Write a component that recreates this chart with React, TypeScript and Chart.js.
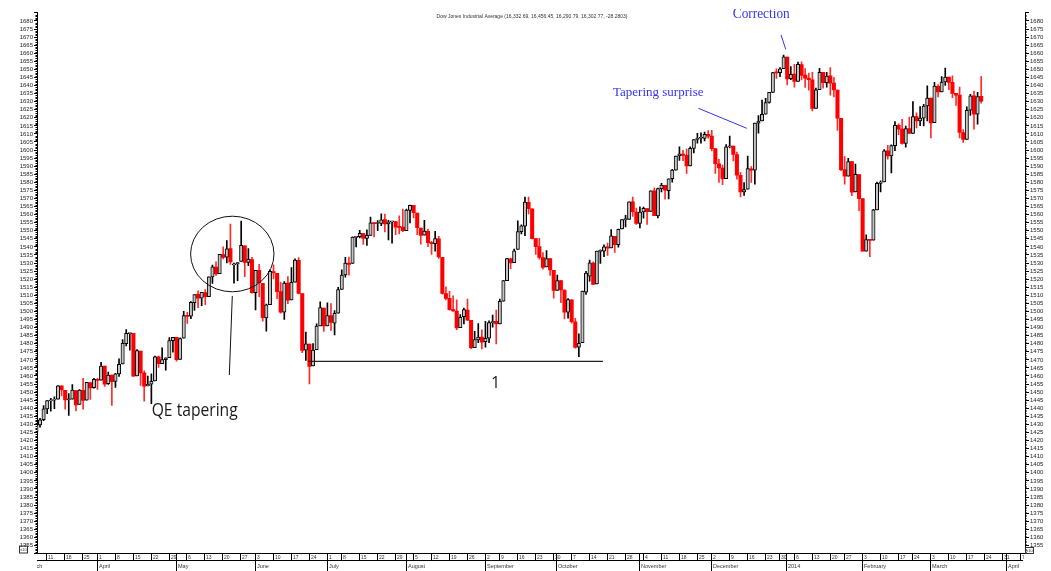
import React, { useEffect, useRef } from 'react';
import { Chart, registerables } from 'chart.js';

Chart.register(...registerables);

// ---------- calendar (trading days) ----------
const HOLIDAYS = [
  '2013-03-29', '2013-05-27', '2013-07-04', '2013-09-02', '2013-11-28',
  '2013-12-25', '2014-01-01', '2014-01-20', '2014-02-17',
];
const CAL_FIRST = '2013-03-01';
const CAL_LAST = '2014-04-11';
const DATA_START = '2013-03-06';

const MONTH_NAMES = ['January', 'February', 'March', 'April', 'May', 'June', 'July',
  'August', 'September', 'October', 'November', 'December'];

const TITLE = 'Dow Jones Industrial Average (16,332.69, 16,456.45, 16,290.79, 16,302.77, -28.2803)';

// ---------- OHLC (index points, Dow / 10), 2013-03-06 .. 2014-03-21 ----------
const opens = [
  // Mar 2013
  1425.5, 1429.7, 1433.0, 1439.6, 1444.6, 1445.0, 1445.6, 1453.9, 1451.1, 1445.3, 1445.7, 1451.0, 1442.4, 1451.1, 1445.0, 1455.9, 1452.7,
  // Apr
  1457.8, 1457.4, 1466.1, 1455.2, 1460.5, 1456.6, 1461.3, 1467.5, 1480.1, 1486.3, 1486.4, 1460.1, 1475.5, 1462.0, 1453.8, 1455.0, 1457.0, 1471.9, 1467.6, 1470.1, 1471.3, 1481.9,
  // May
  1483.9, 1470.3, 1483.4, 1497.1, 1497.0, 1505.4, 1510.6, 1508.3, 1511.7, 1509.1, 1521.4, 1527.5, 1523.4, 1535.3, 1533.7, 1538.9, 1528.8, 1529.4, 1531.0, 1540.7, 1530.4, 1532.2,
  // Jun
  1511.6, 1525.5, 1517.4, 1496.0, 1504.2, 1524.7, 1523.6, 1512.3, 1499.5, 1517.5, 1507.1, 1518.1, 1531.6, 1511.0, 1476.0, 1479.7, 1466.2, 1476.3, 1491.1, 1502.1,
  // Jul
  1491.1, 1497.4, 1492.8, 1499.0, 1513.7, 1522.6, 1530.0, 1529.7, 1545.9, 1546.4, 1548.3, 1545.2, 1547.1, 1554.8, 1554.5, 1554.6, 1556.9, 1554.3, 1555.5, 1555.7, 1552.3, 1552.2,
  // Aug
  1550.0, 1562.6, 1565.7, 1561.0, 1551.7, 1547.3, 1549.7, 1542.4, 1542.0, 1545.0, 1533.5, 1511.1, 1508.2, 1501.1, 1500.2, 1489.9, 1496.7, 1500.9, 1494.5, 1477.6, 1482.4, 1484.1,
  // Sep
  1481.3, 1483.4, 1493.1, 1493.9, 1492.3, 1506.4, 1519.0, 1532.6, 1530.2, 1538.5, 1549.5, 1552.9, 1567.6, 1563.6, 1545.1, 1540.2, 1533.4, 1527.6, 1532.7, 1525.4,
  // Oct
  1513.0, 1519.1, 1513.2, 1499.6, 1507.2, 1493.5, 1477.8, 1480.6, 1512.0, 1521.8, 1530.0, 1517.0, 1537.2, 1537.3, 1540.0, 1539.4, 1546.5, 1541.3, 1551.1, 1556.9, 1557.0, 1568.0, 1561.6,
  // Nov
  1554.6, 1561.6, 1563.8, 1562.0, 1574.8, 1559.2, 1576.1, 1578.2, 1574.9, 1582.3, 1587.6, 1596.3, 1597.5, 1596.8, 1590.2, 1601.0, 1606.6, 1607.3, 1607.2, 1609.7,
  // Dec
  1608.7, 1600.9, 1591.4, 1588.9, 1582.3, 1602.0, 1602.5, 1597.2, 1584.3, 1574.1, 1575.7, 1588.4, 1587.6, 1616.7, 1618.0, 1622.2, 1629.5, 1635.8, 1648.1, 1647.9, 1650.4,
  // Jan 2014
  1657.6, 1644.3, 1647.1, 1642.6, 1653.0, 1646.4, 1644.6, 1643.6, 1625.8, 1637.5, 1648.1, 1641.7, 1646.0, 1641.5, 1637.2, 1619.6, 1587.9, 1583.9, 1592.9, 1574.0, 1584.8,
  // Feb
  1569.9, 1537.3, 1544.3, 1544.1, 1562.9, 1579.4, 1580.2, 1599.5, 1596.3, 1602.7, 1615.4, 1613.0, 1604.1, 1613.3, 1610.3, 1620.7, 1618.0, 1619.8, 1627.3,
  // Mar
  1632.2, 1617.0, 1639.5, 1636.1, 1642.3, 1645.2, 1641.9, 1635.1, 1634.0, 1610.9, 1606.6, 1624.7, 1633.6, 1622.3, 1633.3,
];

const highs = [
  1431.6, 1433.8, 1441.7, 1444.8, 1446.1, 1447.1, 1454.0, 1453.9, 1451.1, 1449.1, 1454.6, 1451.0, 1451.6, 1458.6, 1456.0, 1455.9, 1458.5,
  1458.5, 1468.4, 1466.1, 1462.5, 1460.5, 1461.7, 1470.7, 1482.6, 1488.7, 1486.5, 1486.4, 1476.3, 1475.5, 1463.2, 1460.0, 1461.3, 1472.3, 1472.3, 1477.4, 1471.3, 1483.8, 1484.0,
  1483.9, 1483.7, 1500.1, 1499.4, 1506.1, 1510.5, 1512.7, 1511.8, 1513.5, 1521.5, 1528.7, 1530.8, 1535.4, 1540.1, 1543.9, 1554.2, 1530.0, 1530.3, 1556.0, 1540.7, 1538.9, 1533.6,
  1525.4, 1529.2, 1517.4, 1504.5, 1525.8, 1528.9, 1523.6, 1518.1, 1518.5, 1521.6, 1527.2, 1532.6, 1533.4, 1511.0, 1487.2, 1479.7, 1480.1, 1492.3, 1506.0, 1502.1,
  1505.4, 1504.9, 1500.6, 1515.0, 1525.8, 1533.5, 1533.7, 1546.3, 1546.5, 1550.3, 1548.4, 1550.5, 1558.5, 1554.8, 1556.3, 1560.5, 1560.4, 1556.4, 1555.9, 1555.9, 1559.2, 1563.4,
  1563.4, 1565.9, 1565.7, 1561.0, 1551.7, 1556.4, 1551.1, 1543.5, 1549.7, 1546.5, 1533.5, 1515.2, 1512.4, 1509.6, 1507.2, 1498.1, 1502.1, 1507.7, 1494.5, 1487.7, 1492.4, 1488.6,
  1493.8, 1494.2, 1497.7, 1500.9, 1507.6, 1519.1, 1532.9, 1533.1, 1538.6, 1556.2, 1553.7, 1570.9, 1570.9, 1563.6, 1545.1, 1545.3, 1536.4, 1537.7, 1532.7, 1525.4,
  1522.5, 1519.1, 1513.4, 1508.0, 1507.2, 1495.8, 1486.1, 1512.6, 1524.8, 1531.9, 1530.7, 1537.4, 1538.2, 1541.2, 1542.4, 1550.8, 1546.5, 1551.0, 1557.0, 1559.6, 1568.0, 1570.9, 1564.0,
  1564.9, 1564.7, 1563.8, 1574.7, 1576.6, 1576.4, 1579.4, 1578.2, 1582.2, 1588.1, 1596.2, 1602.0, 1599.8, 1600.6, 1602.0, 1606.5, 1610.3, 1610.7, 1611.1, 1612.0,
  1612.2, 1600.9, 1594.3, 1590.7, 1603.4, 1608.7, 1602.5, 1598.8, 1586.2, 1579.8, 1596.3, 1589.8, 1616.8, 1621.4, 1631.0, 1632.0, 1635.8, 1648.2, 1650.4, 1651.1, 1658.8,
  1657.6, 1651.8, 1653.2, 1654.5, 1654.7, 1650.5, 1647.7, 1648.1, 1638.4, 1650.7, 1648.1, 1648.1, 1651.1, 1645.0, 1637.2, 1619.6, 1595.9, 1594.9, 1592.9, 1591.3, 1584.8,
  1570.0, 1547.4, 1544.3, 1563.2, 1580.2, 1581.0, 1600.3, 1603.0, 1603.3, 1617.7, 1616.3, 1619.0, 1614.8, 1620.4, 1630.1, 1623.0, 1627.0, 1628.4, 1639.8,
  1632.2, 1642.0, 1640.6, 1645.6, 1650.8, 1645.2, 1646.0, 1635.1, 1639.0, 1612.7, 1626.8, 1634.6, 1636.5, 1635.8, 1645.6,
];

const lows = [
  1425.4, 1428.3, 1432.3, 1436.6, 1438.2, 1439.8, 1445.6, 1447.6, 1439.4, 1435.6, 1445.7, 1438.4, 1442.4, 1439.5, 1445.0, 1445.5, 1452.4,
  1451.7, 1457.4, 1453.6, 1454.7, 1441.7, 1452.9, 1459.8, 1467.5, 1478.6, 1476.0, 1459.7, 1460.1, 1454.1, 1444.4, 1453.8, 1442.8, 1457.0, 1465.3, 1467.6, 1463.6, 1471.3, 1474.8,
  1469.2, 1470.3, 1483.4, 1492.5, 1495.5, 1500.7, 1502.4, 1503.5, 1504.2, 1509.1, 1517.3, 1522.3, 1523.4, 1532.5, 1530.0, 1529.2, 1517.5, 1519.0, 1531.0, 1521.6, 1528.4, 1511.3,
  1500.9, 1509.1, 1494.0, 1487.8, 1504.2, 1520.2, 1507.9, 1499.0, 1495.1, 1504.8, 1507.1, 1518.1, 1510.8, 1474.5, 1469.6, 1455.1, 1466.2, 1476.3, 1491.1, 1487.6,
  1491.1, 1488.3, 1485.5, 1499.0, 1513.7, 1521.2, 1522.5, 1529.7, 1540.0, 1545.5, 1541.5, 1540.9, 1547.1, 1546.2, 1550.0, 1553.1, 1549.3, 1544.3, 1542.3, 1547.6, 1548.0, 1549.5,
  1550.0, 1554.9, 1557.9, 1547.6, 1541.7, 1547.3, 1540.2, 1535.3, 1537.4, 1532.8, 1510.7, 1507.1, 1500.8, 1500.0, 1488.7, 1489.9, 1492.2, 1494.5, 1476.9, 1477.6, 1480.6, 1476.7,
  1477.9, 1480.7, 1490.3, 1479.9, 1492.3, 1506.4, 1519.0, 1526.5, 1530.2, 1538.5, 1548.0, 1546.9, 1560.5, 1544.9, 1535.4, 1532.4, 1526.2, 1527.6, 1522.3, 1508.3,
  1513.0, 1505.5, 1495.4, 1495.8, 1492.8, 1477.2, 1471.9, 1480.6, 1510.6, 1518.8, 1516.8, 1517.0, 1529.7, 1534.0, 1534.7, 1539.4, 1536.5, 1539.8, 1551.1, 1552.4, 1557.0, 1558.9, 1554.0,
  1551.8, 1557.8, 1553.9, 1562.0, 1559.3, 1557.9, 1574.0, 1569.5, 1569.8, 1580.1, 1587.6, 1593.6, 1593.4, 1585.6, 1590.2, 1598.3, 1604.3, 1604.2, 1605.7, 1607.4,
  1599.4, 1585.6, 1579.9, 1578.5, 1582.3, 1601.4, 1593.2, 1582.0, 1571.0, 1571.9, 1575.7, 1580.0, 1578.8, 1610.5, 1618.0, 1622.2, 1629.0, 1635.8, 1644.4, 1645.5, 1650.4,
  1640.4, 1643.6, 1638.9, 1642.6, 1643.5, 1638.8, 1637.1, 1624.2, 1625.8, 1637.5, 1638.4, 1638.9, 1634.0, 1632.9, 1612.1, 1587.2, 1578.9, 1583.9, 1571.8, 1574.0, 1562.4,
  1537.3, 1537.3, 1534.0, 1544.1, 1562.9, 1574.1, 1580.2, 1594.3, 1585.9, 1599.7, 1609.6, 1603.6, 1601.8, 1610.3, 1610.3, 1613.8, 1615.1, 1614.9, 1618.0,
  1607.5, 1617.0, 1633.0, 1636.1, 1640.0, 1637.4, 1632.5, 1627.7, 1607.6, 1604.7, 1606.6, 1621.5, 1613.0, 1616.1, 1629.1,
];

const closes = [
  1429.6, 1432.9, 1439.7, 1444.7, 1445.0, 1445.5, 1453.9, 1451.4, 1445.2, 1445.6, 1451.2, 1442.1, 1451.2, 1444.8, 1456.0, 1452.6, 1457.9,
  1457.3, 1466.2, 1455.0, 1460.6, 1456.5, 1461.3, 1467.3, 1480.2, 1486.5, 1486.5, 1459.9, 1475.7, 1461.9, 1453.7, 1454.8, 1456.7, 1471.9, 1467.6, 1470.1, 1471.3, 1481.9, 1484.0,
  1470.1, 1483.2, 1497.4, 1496.9, 1505.6, 1510.5, 1508.3, 1511.8, 1509.2, 1521.5, 1527.6, 1523.3, 1535.4, 1533.5, 1538.8, 1530.7, 1529.5, 1530.3, 1540.9, 1530.3, 1532.5, 1511.6,
  1525.4, 1517.8, 1496.1, 1504.1, 1524.8, 1523.9, 1512.2, 1499.5, 1517.6, 1507.0, 1518.0, 1531.8, 1511.2, 1475.8, 1479.9, 1466.0, 1476.0, 1491.0, 1502.4, 1491.0,
  1497.5, 1493.2, 1498.9, 1513.6, 1522.5, 1530.0, 1529.2, 1546.1, 1546.4, 1548.4, 1545.2, 1547.1, 1554.9, 1554.4, 1554.6, 1556.8, 1554.2, 1555.6, 1555.9, 1552.2, 1552.1, 1550.0,
  1562.8, 1565.8, 1561.2, 1551.9, 1547.1, 1549.8, 1542.6, 1542.0, 1545.1, 1533.8, 1511.2, 1508.1, 1501.1, 1500.3, 1489.8, 1496.4, 1501.1, 1494.6, 1477.6, 1482.5, 1484.1, 1481.0,
  1483.4, 1493.1, 1493.7, 1492.3, 1506.3, 1519.1, 1532.7, 1530.1, 1537.6, 1549.5, 1553.0, 1567.7, 1563.7, 1545.1, 1540.1, 1533.5, 1527.3, 1532.8, 1525.8, 1513.0,
  1519.2, 1513.3, 1499.6, 1507.3, 1493.6, 1477.7, 1480.3, 1512.6, 1523.7, 1530.1, 1516.8, 1537.4, 1537.2, 1540.0, 1539.2, 1546.8, 1541.3, 1550.9, 1557.0, 1556.9, 1568.0, 1561.8, 1554.6,
  1561.6, 1563.9, 1561.9, 1574.7, 1559.4, 1576.2, 1578.3, 1575.1, 1582.2, 1587.6, 1596.2, 1597.6, 1596.7, 1590.1, 1601.0, 1606.5, 1607.3, 1607.3, 1609.7, 1608.6,
  1600.9, 1591.5, 1589.0, 1582.2, 1602.0, 1602.6, 1597.3, 1584.4, 1574.0, 1575.5, 1588.5, 1587.5, 1616.8, 1617.9, 1622.1, 1629.5, 1635.8, 1648.0, 1647.8, 1650.4, 1657.7,
  1644.1, 1647.0, 1642.5, 1653.1, 1646.3, 1644.5, 1643.7, 1625.8, 1637.4, 1648.2, 1641.7, 1645.9, 1641.4, 1637.3, 1619.7, 1587.9, 1583.8, 1592.9, 1573.9, 1584.9, 1569.9,
  1537.3, 1544.5, 1544.0, 1562.9, 1579.4, 1580.2, 1599.5, 1596.4, 1602.8, 1615.4, 1613.0, 1604.1, 1613.3, 1610.3, 1620.7, 1618.0, 1619.8, 1627.3, 1632.2,
  1616.8, 1639.6, 1636.0, 1642.2, 1645.3, 1641.9, 1635.1, 1634.0, 1610.9, 1606.6, 1624.7, 1633.6, 1622.2, 1633.1, 1630.3,
];

// ---------- axes ----------
const Y_MIN = 1350;
const Y_MAX = 1685;
const Y_STEP = 5;
const X_MIN = 3.16;   // trading-day index at left axis
const X_MAX = 278.2;  // trading-day index at right axis

// ---------- annotations (data units) ----------
const NOTE_CIRCLE = { x: 57.53, y: 1535.6, rx: 41.7, ry: 37.8 };
const NOTE_QE_LINE = [[57.53, 1509.6], [56.7, 1460.6]];
const NOTE_QE_TEXT = { text: 'QE tapering', x: 35.09, y: 1435.2 };
const SUPPORT_LINE = { y: 1469.0, x1: 78.6, x2: 160.7 };
const SUPPORT_TEXT = { text: '1', x: 130.8, y: 1452.6 };
const TAPER_TEXT = { text: 'Tapering surprise', x: 163.52, y: 1633.8 };
const TAPER_LINE = [[187.27, 1625.9], [200.74, 1613.5]];
const CORR_TEXT = { text: 'Correction', x: 196.84, y: 1681.6 };
const CORR_LINE = [[210.29, 1671.3], [211.6, 1662.4]];
const TITLE_POS = { x: 140.97, y: 1681.8 };

function buildCalendar(): string[] {
  const out: string[] = [];
  const [fy, fm, fd] = CAL_FIRST.split('-').map(Number);
  const [ly, lm, ld] = CAL_LAST.split('-').map(Number);
  const d = new Date(Date.UTC(fy, fm - 1, fd));
  const end = Date.UTC(ly, lm - 1, ld);
  while (d.getTime() <= end) {
    const wd = d.getUTCDay();
    const iso = d.toISOString().slice(0, 10);
    if (wd !== 0 && wd !== 6 && !HOLIDAYS.includes(iso)) out.push(iso);
    d.setUTCDate(d.getUTCDate() + 1);
  }
  return out;
}

const BLUE = '#3434ee';

export default function App() {
  const ref = useRef<HTMLCanvasElement | null>(null);

  useEffect(() => {
    const canvas = ref.current;
    if (!canvas) return;
    const calendar = buildCalendar();
    const start = calendar.indexOf(DATA_START);

    const upBodies: any[] = [];
    const downBodies: any[] = [];
    const upWicks: any[] = [];
    const downWicks: any[] = [];
    closes.forEach((c, i) => {
      const x = start + i;
      const o = opens[i];
      const body = { x, y: [o, c] };
      const wick = { x, y: [lows[i], highs[i]] };
      if (c >= o) { upBodies.push(body); upWicks.push(wick); }
      else { downBodies.push(body); downWicks.push(wick); }
    });

    // week / month tick positions (weeks labelled with their Monday's date)
    const weekTicks: { idx: number; label: string }[] = [];
    const monthTicks: { idx: number; label: string }[] = [];
    const weekStart = (iso: string) => {
      const t = Date.UTC(+iso.slice(0, 4), +iso.slice(5, 7) - 1, +iso.slice(8, 10));
      const wd = (new Date(t).getUTCDay() + 6) % 7;
      return (t - wd * 86400000);
    };
    calendar.forEach((iso, i) => {
      const prev = i > 0 ? calendar[i - 1] : null;
      if (!prev || weekStart(prev) !== weekStart(iso)) {
        const monday = new Date(weekStart(iso));
        weekTicks.push({ idx: i, label: String(monday.getUTCDate()) });
      }
      if (!prev || prev.slice(5, 7) !== iso.slice(5, 7)) {
        const m = +iso.slice(5, 7) - 1;
        monthTicks.push({ idx: i, label: m === 0 ? iso.slice(0, 4) : MONTH_NAMES[m] });
      }
    });

    const tickFont = { family: 'Liberation Sans, Arial, sans-serif', size: 6 };
    const yLabel = (v: any) => (v >= Y_MAX || v <= Y_MIN ? '' : String(v));

    const drawPlugin = {
      id: 'dowDecor',
      afterDraw(chart: any) {
        const { ctx, chartArea: ca } = chart;
        const xs = chart.scales.x;
        const ys = chart.scales.y;
        const px = (v: number) => xs.getPixelForValue(v);
        const py = (v: number) => ys.getPixelForValue(v);
        ctx.save();

        // minor ticks on both y axes
        ctx.strokeStyle = '#000';
        ctx.lineWidth = 1;
        ctx.beginPath();
        for (let v = Y_MIN + 1; v < Y_MAX; v += 1) {
          if (v % Y_STEP === 0) continue;
          const y = Math.round(py(v)) + 0.5;
          ctx.moveTo(ca.left - 1.5, y); ctx.lineTo(ca.left, y);
          ctx.moveTo(ca.right, y); ctx.lineTo(ca.right + 1.5, y);
        }
        ctx.stroke();

        // bottom date rows
        const rowTop = Math.round(ca.bottom) - 0.5;
        const rowMid = rowTop + 7;
        const rowBot = chart.height;
        ctx.beginPath();
        ctx.moveTo(ca.left, rowTop); ctx.lineTo(ca.right, rowTop);
        ctx.moveTo(ca.left, rowMid); ctx.lineTo(ca.right - 2, rowMid);
        ctx.stroke();

        ctx.save();
        ctx.beginPath();
        ctx.rect(ca.left, rowTop, ca.right - ca.left - 1, rowBot - rowTop);
        ctx.clip();
        ctx.fillStyle = '#333';
        ctx.textBaseline = 'alphabetic';
        ctx.textAlign = 'left';
        ctx.beginPath();
        weekTicks.forEach((t) => {
          const x = Math.round(px(t.idx) - 0.8) + 0.5;
          ctx.moveTo(x, rowTop); ctx.lineTo(x, rowMid);
        });
        monthTicks.forEach((t) => {
          const x = Math.round(px(t.idx) - 0.8) + 0.5;
          ctx.moveTo(x, rowTop); ctx.lineTo(x, rowBot);
        });
        ctx.stroke();
        ctx.font = '5px "Liberation Sans", Arial, sans-serif';
        weekTicks.forEach((t) => {
          const x = Math.round(px(t.idx) - 0.8) + 0.5;
          ctx.fillText(t.label, x + 1.5, rowMid - 1.5);
        });
        ctx.font = '5.5px "Liberation Sans", Arial, sans-serif';
        monthTicks.forEach((t) => {
          const x = Math.round(px(t.idx) - 0.8) + 0.5;
          ctx.fillText(t.label, x + 1.5, rowMid + 7);
        });
        ctx.restore();

        // x10 boxes at axis feet
        ctx.strokeStyle = '#333';
        ctx.fillStyle = '#333';
        ctx.font = '4px "Liberation Sans", Arial, sans-serif';
        ctx.textAlign = 'center';
        ctx.textBaseline = 'middle';
        ctx.strokeRect(ca.left - 17.5, rowTop - 7.5, 8, 7);
        ctx.fillText('x10', ca.left - 13.5, rowTop - 4);
        ctx.strokeRect(ca.right + 0.5, rowTop - 6, 8, 6);
        ctx.fillText('x10', ca.right + 4.5, rowTop - 3);

        // title
        ctx.fillStyle = '#333';
        ctx.font = '5px "Liberation Sans", Arial, sans-serif';
        ctx.textAlign = 'center';
        ctx.textBaseline = 'alphabetic';
        ctx.fillText(TITLE, px(TITLE_POS.x), py(TITLE_POS.y), 208);

        // QE tapering circle + pointer + label
        ctx.strokeStyle = '#111';
        ctx.lineWidth = 1;
        ctx.beginPath();
        ctx.ellipse(px(NOTE_CIRCLE.x), py(NOTE_CIRCLE.y), NOTE_CIRCLE.rx, NOTE_CIRCLE.ry, 0, 0, Math.PI * 2);
        ctx.stroke();
        ctx.beginPath();
        ctx.moveTo(px(NOTE_QE_LINE[0][0]), py(NOTE_QE_LINE[0][1]));
        ctx.lineTo(px(NOTE_QE_LINE[1][0]), py(NOTE_QE_LINE[1][1]));
        ctx.stroke();
        ctx.fillStyle = '#1a1a1a';
        ctx.textAlign = 'left';
        ctx.font = '18px "Open Sans", "Noto Sans", sans-serif';
        ctx.fillText(NOTE_QE_TEXT.text, px(NOTE_QE_TEXT.x), py(NOTE_QE_TEXT.y), 86);

        // support line "1"
        ctx.strokeStyle = '#222';
        ctx.lineWidth = 1.3;
        ctx.beginPath();
        ctx.moveTo(px(SUPPORT_LINE.x1), py(SUPPORT_LINE.y));
        ctx.lineTo(px(SUPPORT_LINE.x2), py(SUPPORT_LINE.y));
        ctx.stroke();
        ctx.textAlign = 'center';
        ctx.font = '16px "Open Sans", "Noto Sans", sans-serif';
        ctx.fillText(SUPPORT_TEXT.text, px(SUPPORT_TEXT.x), py(SUPPORT_TEXT.y));

        // Tapering surprise
        ctx.fillStyle = BLUE;
        ctx.strokeStyle = BLUE;
        ctx.lineWidth = 1;
        ctx.textAlign = 'left';
        ctx.font = '13px "Liberation Serif", "Times New Roman", serif';
        ctx.fillText(TAPER_TEXT.text, px(TAPER_TEXT.x), py(TAPER_TEXT.y), 92);
        ctx.beginPath();
        ctx.moveTo(px(TAPER_LINE[0][0]), py(TAPER_LINE[0][1]));
        ctx.lineTo(px(TAPER_LINE[1][0]), py(TAPER_LINE[1][1]));
        ctx.stroke();

        // Correction (top clipped like the source)
        ctx.save();
        ctx.beginPath();
        ctx.rect(0, 9, chart.width, chart.height);
        ctx.clip();
        ctx.font = '15px "Liberation Serif", "Times New Roman", serif';
        ctx.fillText(CORR_TEXT.text, px(CORR_TEXT.x), py(CORR_TEXT.y), 57);
        ctx.restore();
        ctx.beginPath();
        ctx.moveTo(px(CORR_LINE[0][0]), py(CORR_LINE[0][1]));
        ctx.lineTo(px(CORR_LINE[1][0]), py(CORR_LINE[1][1]));
        ctx.stroke();

        ctx.restore();
      },
    };

    const yAxisBase = (pos: 'left' | 'right', width: number, tickLen: number, pad: number) => ({
      type: 'linear' as const,
      position: pos,
      min: Y_MIN,
      max: Y_MAX,
      afterFit: (s: any) => { s.width = width; },
      ticks: {
        stepSize: Y_STEP,
        autoSkip: false,
        padding: pad,
        color: '#222',
        font: tickFont,
        callback: yLabel,
      },
      grid: {
        drawOnChartArea: false,
        drawTicks: true,
        tickLength: tickLen,
        color: '#000',
        lineWidth: 1,
      },
      border: { display: true, color: '#000', width: 1 },
    });

    const chart = new Chart(canvas, {
      type: 'bar',
      data: {
        datasets: [
          { label: 'up wicks', data: upWicks, backgroundColor: '#000', borderWidth: 0, barThickness: 1, grouped: false, order: 3, yAxisID: 'y' },
          { label: 'down wicks', data: downWicks, backgroundColor: '#ff2a2a', borderWidth: 0, barThickness: 1, grouped: false, order: 3, yAxisID: 'y' },
          { label: 'up bodies', data: upBodies, backgroundColor: '#c4c4c4', borderColor: '#000', borderWidth: 1, borderSkipped: false, barThickness: 3.4, minBarLength: 1, grouped: false, order: 1, yAxisID: 'y' },
          { label: 'down bodies', data: downBodies, backgroundColor: '#ff0000', borderWidth: 0, barThickness: 3.4, minBarLength: 1, grouped: false, order: 1, yAxisID: 'y' },
        ] as any,
      },
      options: {
        animation: false,
        responsive: false,
        devicePixelRatio: 1,
        layout: { padding: { top: 12.9, bottom: 17.5, left: 0, right: 0 } },
        plugins: {
          legend: { display: false },
          tooltip: { enabled: false },
          title: { display: false },
        },
        scales: {
          x: { type: 'linear', min: X_MIN, max: X_MAX, offset: false, display: false, grid: { offset: false } },
          y: yAxisBase('left', 37, 3, 1),
          y2: yAxisBase('right', 26, 4, 1),
        } as any,
      },
      plugins: [drawPlugin],
    });

    return () => { chart.destroy(); };
  }, []);

  return (
    <div style={{ position: 'fixed', left: 0, top: 0, width: 1051, height: 571, background: '#fff' }}>
      <canvas ref={ref} width={1051} height={571} style={{ display: 'block', width: 1051, height: 571 }} />
    </div>
  );
}
